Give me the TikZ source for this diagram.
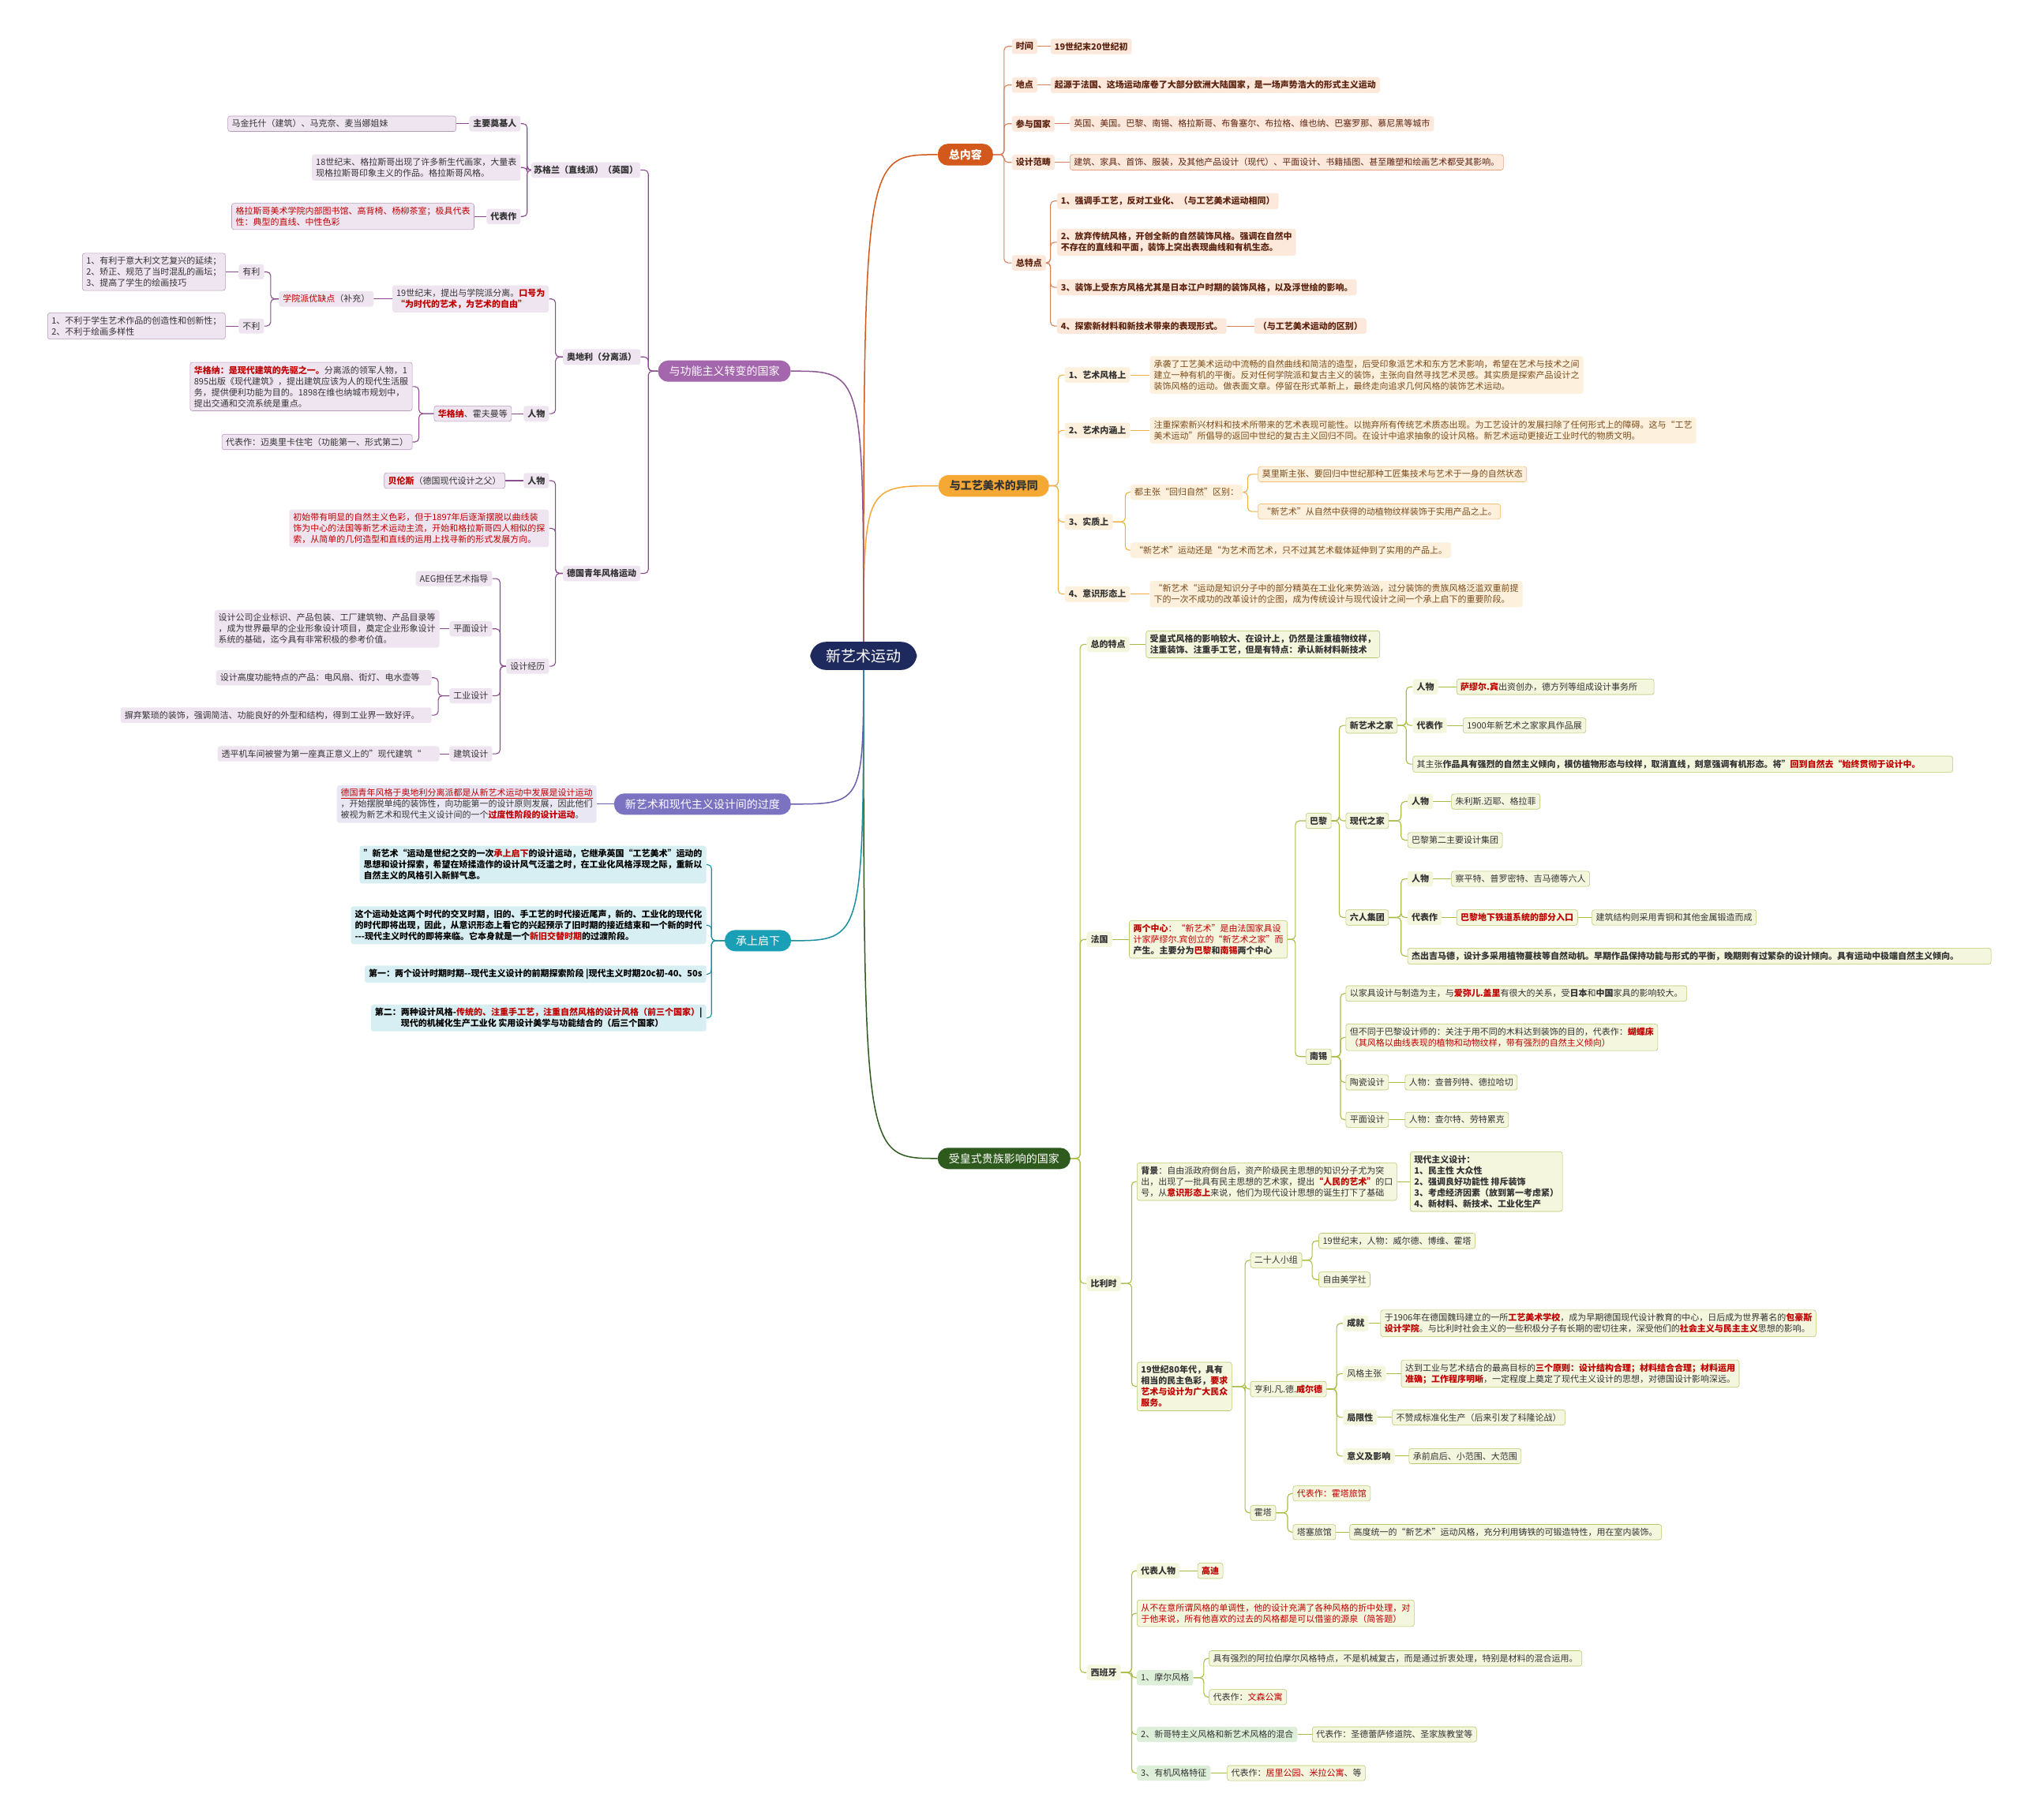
\documentclass[tikz,border=0pt]{standalone}
\usepackage{fontspec}
\setmainfont{Noto Sans CJK SC}
\usetikzlibrary{backgrounds}
\definecolor{navy}{HTML}{1E2A5E}
\definecolor{oMain}{HTML}{D2581C}\definecolor{oLine}{HTML}{D9805A}\definecolor{oFill}{HTML}{FDE8DC}\definecolor{oText}{HTML}{5C2410}\definecolor{oBorder}{HTML}{E8A080}
\definecolor{yMain}{HTML}{F5A833}\definecolor{yLine}{HTML}{F0B045}\definecolor{yFill}{HTML}{FDF0DC}\definecolor{yText}{HTML}{7A4B1C}\definecolor{yBorder}{HTML}{F0C070}
\definecolor{gMain}{HTML}{2E5A1E}\definecolor{gLine}{HTML}{A8BE45}\definecolor{gFill}{HTML}{F4F6DE}\definecolor{gBorder}{HTML}{B9CB6E}\definecolor{gFillB}{HTML}{DDEFD9}
\definecolor{pMain}{HTML}{A466AC}\definecolor{pLine}{HTML}{8A4C8F}\definecolor{pFill}{HTML}{EFE5F1}\definecolor{pBorder}{HTML}{B89BBB}
\definecolor{vMain}{HTML}{7B72C2}\definecolor{vLine}{HTML}{6A60B0}\definecolor{vFill}{HTML}{EAE7F5}
\definecolor{cMain}{HTML}{1AA0B6}\definecolor{cLine}{HTML}{1B8EA0}\definecolor{cFill}{HTML}{D7EEF2}
\definecolor{dText}{HTML}{333333}\definecolor{hl}{HTML}{C00000}
\newcommand\fs{\fontsize{11}{14}\selectfont}
\newcommand\hr[1]{\textcolor{hl}{#1}}
\newcommand\hb[1]{\textcolor{hl}{\bfseries #1}}
\newcommand\cR[3][5]{\draw (#2.west) -- ++(-#1,0) |- (#3.east);}
\newcommand\cL[3][5]{\draw (#2.east) -- ++(#1,0) |- (#3.west);}
\newcommand\cS[2]{\draw (#1) -- (#2);}
\begin{document}
\begin{tikzpicture}[x=1.6327pt,y=-1.6327pt,
  bx/.style={font=\fs, inner xsep=5pt, inner ysep=4.5pt, rounded corners=3pt, align=left},
  bld/.style={font=\fs\bfseries},
  mn/.style={inner xsep=14pt, inner ysep=7pt, rounded corners=13pt, font=\fontsize{14}{17}\selectfont, text=white},
  mnb/.style={mn, font=\fontsize{14}{17}\selectfont\bfseries},
  oo/.style={bx, fill=oFill, text=oText},
  ood/.style={oo, draw=oBorder, line width=0.6pt},
  yy/.style={bx, fill=yFill, text=yText},
  yyd/.style={yy, draw=yBorder, line width=0.6pt},
  gg/.style={bx, fill=gFill, text=dText},
  ggd/.style={gg, draw=gBorder, line width=0.6pt},
  gm/.style={bx, fill=gFillB, text=dText},
  pp/.style={bx, fill=pFill, text=dText},
  ppd/.style={pp, draw=pBorder, line width=0.6pt},
  vv/.style={bx, fill=vFill, text=dText},
  cc/.style={bx, fill=cFill, text=black, font=\fs\bfseries},
  ra/.style={anchor=west}, la/.style={anchor=east}]
\useasboundingbox (0,0) rectangle (1568,1412);
% ---------- center ----------
\node[fill=navy, text=white, rounded corners=20pt, inner xsep=20pt, inner ysep=9pt, font=\fontsize{19}{22}\selectfont] (C) at (670,509) {新艺术运动};
% ---------- 总内容 ----------
\node[mnb, fill=oMain] (O) at (749,120) {总内容};
\node[oo,bld,ra] (o1) at (785,36) {时间};
\node[oo,bld,ra] (o1a) at (815,36) {19世纪末20世纪初};
\node[oo,bld,ra] (o2) at (785,66) {地点};
\node[oo,bld,ra] (o2a) at (815,66) {起源于法国、这场运动席卷了大部分欧洲大陆国家，是一场声势浩大的形式主义运动};
\node[oo,bld,ra] (o3) at (785,96) {参与国家};
\node[oo,ra] (o3a) at (830,96) {英国、美国。巴黎、南锡、格拉斯哥、布鲁塞尔、布拉格、维也纳、巴塞罗那、慕尼黑等城市};
\node[oo,bld,ra] (o4) at (785,126) {设计范畴};
\node[ood,ra] (o4a) at (830,126) {建筑、家具、首饰、服装，及其他产品设计（现代）、平面设计、书籍插图、甚至雕塑和绘画艺术都受其影响。};
\node[oo,bld,ra] (o5) at (785,204) {总特点};
\node[oo,bld,ra] (o5a) at (820,156) {1、强调手工艺，反对工业化、（与工艺美术运动相同）};
\node[oo,bld,ra] (o5b) at (820,188) {2、放弃传统风格，开创全新的自然装饰风格。强调在自然中\\不存在的直线和平面，装饰上突出表现曲线和有机生态。};
\node[oo,bld,ra] (o5c) at (820,223) {3、装饰上受东方风格尤其是日本江户时期的装饰风格，以及浮世绘的影响。};
\node[oo,bld,ra] (o5d) at (820,253) {4、探索新材料和新技术带来的表现形式。};
\node[oo,bld,ra] (o5e) at (973,253) {（与工艺美术运动的区别）};
% ---------- 与工艺美术的异同 ----------
\node[mnb, fill=yMain, text=dText] (Y) at (771,377) {与工艺美术的异同};
\node[yy,bld,text=dText,ra] (y1) at (826,291) {1、艺术风格上};
\node[yy,ra] (y1a) at (892,291) {承袭了工艺美术运动中流畅的自然曲线和简洁的造型，后受印象派艺术和东方艺术影响，希望在艺术与技术之间\\建立一种有机的平衡。反对任何学院派和复古主义的装饰，主张向自然寻找艺术灵感。其实质是探索产品设计之\\装饰风格的运动。做表面文章。停留在形式革新上，最终走向追求几何风格的装饰艺术运动。};
\node[yy,bld,text=dText,ra] (y2) at (826,334) {2、艺术内涵上};
\node[yy,ra] (y2a) at (892,334) {注重探索新兴材料和技术所带来的艺术表现可能性。以抛弃所有传统艺术质态出现。为工艺设计的发展扫除了任何形式上的障碍。这与“工艺\\美术运动”所倡导的返回中世纪的复古主义回归不同。在设计中追求抽象的设计风格。新艺术运动更接近工业时代的物质文明。};
\node[yy,bld,text=dText,ra] (y3) at (826,405) {3、实质上};
\node[yy,ra] (y3a) at (877,382) {都主张“回归自然”区别：};
\node[yyd,ra] (y3a1) at (976,368) {莫里斯主张、要回归中世纪那种工匠集技术与艺术于一身的自然状态};
\node[yyd,ra] (y3a2) at (976,397) {“新艺术”从自然中获得的动植物纹样装饰于实用产品之上。};
\node[yy,ra] (y3b) at (877,427) {“新艺术”运动还是“为艺术而艺术，只不过其艺术载体延伸到了实用的产品上。};
\node[yy,bld,text=dText,ra] (y4) at (826,461) {4、意识形态上};
\node[yy,ra] (y4a) at (892,461) {“新艺术“运动是知识分子中的部分精英在工业化来势汹汹，过分装饰的贵族风格泛滥双重前提\\下的一次不成功的改革设计的企图，成为传统设计与现代设计之间一个承上启下的重要阶段。};
% ---------- 受皇式贵族影响的国家 ----------
\node[mn, fill=gMain] (G) at (779,899) {受皇式贵族影响的国家};
\node[gg,bld,ra] (g1) at (843,500) {总的特点};
\node[ggd,bld,ra] (g1a) at (889,500) {受皇式风格的影响较大、在设计上，仍然是注重植物纹样，\\注重装饰、注重手工艺，但是有特点：承认新材料新技术};
\node[gg,bld,ra] (g2) at (843,729) {法国};
\node[ggd,ra] (g2a) at (876,729) {\hb{两个中心}\hr{：“新艺术”是由法国家具设}\\\hr{计家萨缪尔.宾创立的“新艺术之家”而}\\\textbf{产生。主要分为}\hb{巴黎}\textbf{和}\hb{南锡}\textbf{两个中心}};
\node[ggd,bld,ra] (pa) at (1013,637) {巴黎};
\node[ggd,bld,ra] (pa1) at (1044,563) {新艺术之家};
\node[gg,bld,ra] (pa1a) at (1096,533) {人物};
\node[ggd,ra] (pa1a1) at (1130,533) {\hb{萨缪尔.宾}出资创办，德方列等组成设计事务所\hspace*{16pt}};
\node[gg,bld,ra] (pa1b) at (1096,563) {代表作};
\node[ggd,ra] (pa1b1) at (1135,563) {1900年新艺术之家家具作品展};
\node[ggd,bld,ra] (pa1c) at (1096,593) {\mdseries 其主张\bfseries 作品具有强烈的自然主义倾向，模仿植物形态与纹样，取消直线，刻意强调有机形态。将”\hb{回到自然去“始终贯彻于设计中。}\hspace*{36pt}};
\node[ggd,bld,ra] (pa2) at (1044,637) {现代之家};
\node[gg,bld,ra] (pa2a) at (1092,622) {人物};
\node[ggd,ra] (pa2a1) at (1126,622) {朱利斯.迈耶、格拉菲};
\node[ggd,ra] (pa2b) at (1092,652) {巴黎第二主要设计集团};
\node[ggd,bld,ra] (pa3) at (1044,712) {六人集团};
\node[gg,bld,ra] (pa3a) at (1092,682) {人物};
\node[ggd,ra] (pa3a1) at (1126,682) {察平特、普罗密特、吉马德等六人};
\node[gg,bld,ra] (pa3b) at (1092,712) {代表作};
\node[ggd,ra] (pa3b1) at (1130,712) {\hb{巴黎地下铁道系统的部分入口}};
\node[ggd,ra] (pa3b2) at (1235,712) {建筑结构则采用青铜和其他金属锻造而成};
\node[ggd,bld,ra] (pa3c) at (1092,742) {杰出吉马德，设计多采用植物蔓枝等自然动机。早期作品保持功能与形式的平衡，晚期则有过繁杂的设计倾向。具有运动中极端自然主义倾向。\hspace*{36pt}};
\node[ggd,bld,ra] (nx) at (1013,820) {南锡};
\node[ggd,ra] (nx1) at (1044,771) {以家具设计与制造为主，与\hb{爱弥儿.盖里}有很大的关系，受\textbf{日本}和\textbf{中国}家具的影响较大。};
\node[ggd,ra] (nx2) at (1044,805) {但不同于巴黎设计师的：关注于用不同的木料达到装饰的目的，代表作：\hb{蝴蝶床}\\\hr{（其风格以曲线表现的植物和动物纹样，带有强烈的自然主义倾向）}};
\node[ggd,ra] (nx3) at (1044,840) {陶瓷设计};
\node[ggd,ra] (nx3a) at (1090,840) {人物：查普列特、德拉哈切};
\node[ggd,ra] (nx4) at (1044,869) {平面设计};
\node[ggd,ra] (nx4a) at (1090,869) {人物：查尔特、劳特累克};
\node[gg,bld,ra] (g3) at (843,996) {比利时};
\node[ggd,ra] (b1) at (882,917) {\textbf{背景}：自由派政府倒台后，资产阶级民主思想的知识分子尤为突\\出，出现了一批具有民主思想的艺术家，提出\hb{“人民的艺术”}的口\\号，从\hb{意识形态上}来说，他们为现代设计思想的诞生打下了基础};
\node[ggd,bld,ra] (b1a) at (1094,917) {现代主义设计：\\1、民主性 大众性\\2、强调良好功能性 排斥装饰\\3、考虑经济因素（放到第一考虑紧）\\4、新材料、新技术、工业化生产};
\node[ggd,bld,ra] (b2) at (882,1076) {19世纪80年代，具有\\相当的民主色彩，\hr{要求}\\\hr{艺术与设计为广大民众}\\\hr{服务。}};
\node[ggd,ra] (b21) at (970,978) {二十人小组};
\node[ggd,ra] (b21a) at (1023,963) {19世纪末，人物：威尔德、博维、霍塔};
\node[ggd,ra] (b21b) at (1023,993) {自由美学社};
\node[ggd,ra] (b22) at (970,1078) {亨利.凡.德.\hb{威尔德}};
\node[gg,bld,ra] (b22a) at (1042,1027) {成就};
\node[ggd,ra] (b22a1) at (1071,1027) {于1906年在德国魏玛建立的一所\hb{工艺美术学校}，成为早期德国现代设计教育的中心，日后成为世界著名的\hb{包豪斯}\\\hb{设计学院}。与比利时社会主义的一些积极分子有长期的密切往来，深受他们的\hb{社会主义与民主主义}思想的影响。};
\node[gg,ra] (b22b) at (1042,1066) {风格主张};
\node[ggd,ra] (b22b1) at (1087,1066) {达到工业与艺术结合的最高目标的\hb{三个原则：设计结构合理；材料结合合理；材料运用}\\\hb{准确；工作程序明晰}，一定程度上奠定了现代主义设计的思想，对德国设计影响深远。};
\node[gg,bld,ra] (b22c) at (1042,1100) {局限性};
\node[ggd,ra] (b22c1) at (1080,1100) {不赞成标准化生产（后来引发了科隆论战）};
\node[gg,bld,ra] (b22d) at (1042,1130) {意义及影响};
\node[ggd,ra] (b22d1) at (1093,1130) {承前启后、小范围、大范围};
\node[ggd,ra] (b23) at (970,1174) {霍塔};
\node[ggd,ra] (b23a) at (1003,1159) {\hr{代表作：霍塔旅馆}};
\node[ggd,ra] (b23b) at (1003,1189) {塔塞旅馆};
\node[ggd,ra] (b23b1) at (1047,1189) {高度统一的“新艺术”运动风格，充分利用铸铁的可锻造特性，用在室内装饰。};
\node[gg,bld,ra] (g4) at (843,1298) {西班牙};
\node[gg,bld,ra] (s1) at (882,1219) {代表人物};
\node[ggd,ra] (s1a) at (929,1219) {\hb{高迪}};
\node[ggd,ra] (s2) at (882,1252) {\hr{从不在意所谓风格的单调性，他的设计充满了各种风格的折中处理，对}\\\hr{于他来说，所有他喜欢的过去的风格都是可以借鉴的源泉（简答题）}};
\node[gm,ra] (s3) at (882,1302) {1、摩尔风格};
\node[ggd,ra] (s3a) at (938,1287) {具有强烈的阿拉伯摩尔风格特点，不是机械复古，而是通过折衷处理，特别是材料的混合运用。};
\node[ggd,ra] (s3b) at (938,1317) {代表作：\hr{文森公寓}};
\node[gm,ra] (s4) at (882,1346) {2、新哥特主义风格和新艺术风格的混合};
\node[ggd,ra] (s4a) at (1018,1346) {代表作：圣德蕾萨修道院、圣家族教堂等};
\node[gm,ra] (s5) at (882,1376) {3、有机风格特征};
\node[ggd,ra] (s5a) at (952,1376) {代表作：\hr{居里公园、米拉公寓}、等};
% ---------- 与功能主义转变的国家 ----------
\node[mn, fill=pMain] (P) at (562,288) {与功能主义转变的国家};
\node[pp,bld,la,inner xsep=3pt] (pS) at (497,132) {苏格兰（直线派）（英国）};
\node[pp,bld,la] (pS1) at (404,96) {主要奠基人};
\node[ppd,la,text width=279pt] (pS1a) at (354,96) {马金托什（建筑）、马克奈、麦当娜姐妹};
\node[pp,la] (pS2) at (404,130) {18世纪末、格拉斯哥出现了许多新生代画家，大量表\\现格拉斯哥印象主义的作品。格拉斯哥风格。};
\node[pp,bld,la] (pS3) at (404,168) {代表作};
\node[ppd,la,text=hl] (pS3a) at (368,168) {格拉斯哥美术学院内部图书馆、高背椅、杨柳茶室；极具代表\\性：典型的直线、中性色彩};
\node[pp,bld,la] (pA) at (497,277) {奥地利（分离派）};
\node[pp,la] (pA1) at (426,232) {19世纪末，提出与学院派分离。\hb{口号为}\\\hb{“为时代的艺术，为艺术的自由”}};
\node[pp,la] (pA1a) at (290,232) {\hr{学院派优缺点}（补充）};
\node[pp,la] (pA1a1) at (205,211) {有利};
\node[ppd,la] (pA1a1x) at (175,211) {1、有利于意大利文艺复兴的延续；\\2、矫正、规范了当时混乱的画坛；\\3、提高了学生的绘画技巧};
\node[pp,la] (pA1a2) at (205,253) {不利};
\node[ppd,la] (pA1a2x) at (175,253) {1、不利于学生艺术作品的创造性和创新性；\\2、不利于绘画多样性};
\node[pp,bld,la] (pA2) at (426,321) {人物};
\node[ppd,la] (pA2a) at (397,321) {\hb{华格纳}、霍夫曼等};
\node[ppd,la] (pA2a1) at (320,300) {\hb{华格纳：是现代建筑的先驱之一。}分离派的领军人物，1\\895出版《现代建筑》，提出建筑应该为人的现代生活服\\务，提供便利功能为目的。1898在维也纳城市规划中，\\提出交通和交流系统是重点。};
\node[ppd,la] (pA2a2) at (320,343) {代表作：迈奥里卡住宅（功能第一、形式第二）};
\node[pp,bld,la] (pD) at (497,445) {德国青年风格运动};
\node[pp,bld,la] (pD1) at (426,373) {人物};
\node[ppd,la] (pD1a) at (392,373) {\hb{贝伦斯}（德国现代设计之父）};
\node[pp,la,text=hl] (pD2) at (426,410) {初始带有明显的自然主义色彩，但于1897年后逐渐摆脱以曲线装\\饰为中心的法国等新艺术运动主流，开始和格拉斯哥四人相似的探\\索，从简单的几何造型和直线的运用上找寻新的形式发展方向。};
\node[pp,la] (pD3) at (426,517) {设计经历};
\node[pp,la] (pD3a) at (382,449) {AEG担任艺术指导};
\node[pp,la] (pD3b) at (382,488) {平面设计};
\node[pp,la] (pD3b1) at (341,488) {设计公司企业标识、产品包装、工厂建筑物、产品目录等\\，成为世界最早的企业形象设计项目，奠定企业形象设计\\系统的基础，迄今具有非常积极的参考价值。};
\node[pp,la] (pD3c) at (382,540) {工业设计};
\node[pp,la] (pD3c1) at (335,526) {设计高度功能特点的产品：电风扇、街灯、电水壶等\hspace*{10pt}};
\node[pp,la] (pD3c2) at (335,555) {摒弃繁琐的装饰，强调简洁、功能良好的外型和结构，得到工业界一致好评。\hspace*{10pt}};
\node[pp,la] (pD3d) at (382,585) {建筑设计};
\node[pp,la] (pD3d1) at (341,585) {透平机车间被誉为第一座真正意义上的”现代建筑“\hspace*{18pt}};
% ---------- 过度 ----------
\node[mn, fill=vMain] (V) at (545,624) {新艺术和现代主义设计间的过度};
\node[vv,la] (V1) at (463,624) {\hr{\underline{德国青年风格于奥地利分离派都是从新艺术运动中发展是设计运动}}\\，开始摆脱单纯的装饰性，向功能第一的设计原则发展，因此他们\\被视为新艺术和现代主义设计间的一个\hb{过度性阶段的设计运动}。};
% ---------- 承上启下 ----------
\node[mn, fill=cMain] (T) at (588,730) {承上启下};
\node[cc,la] (T1) at (548,671) {”新艺术“运动是世纪之交的一次\hr{承上启下}的设计运动，它继承英国“工艺美术”运动的\\思想和设计探索，希望在矫揉造作的设计风气泛滥之时，在工业化风格浮现之际，重新以\\自然主义的风格引入新鲜气息。};
\node[cc,la] (T2) at (548,718) {这个运动处这两个时代的交叉时期，旧的、手工艺的时代接近尾声，新的、工业化的现代化\\的时代即将出现，因此，从意识形态上看它的兴起预示了旧时期的接近结束和一个新的时代\\-{}-{}-现代主义时代的即将来临。它本身就是一个\hr{新旧交替时期}的过渡阶段。};
\node[cc,la] (T3) at (548,756) {第一：两个设计时期时期-{}-现代主义设计的前期探索阶段 |现代主义时期20c初-40、50s};
\node[cc,la] (T4) at (548,790) {第二：两种设计风格-\hr{传统的、注重手工艺，注重自然风格的设计风格（前三个国家）}|\\\hspace*{3em}现代的机械化生产工业化 实用设计美学与功能结合的（后三个国家）};
% ---------- connectors ----------
\begin{scope}[on background layer]
\fill[white] (0,0) rectangle (1568,1412);
\begin{scope}[line width=1.5pt]
\draw[oMain] (C.center) .. controls (C.center |- O.west) .. (O.west);
\draw[yMain] (C.center) .. controls (C.center |- Y.west) .. (Y.west);
\draw[gMain] (C.center) .. controls (C.center |- G.west) .. (G.west);
\draw[pMain!85!black] (C.center) .. controls (C.center |- P.east) .. (P.east);
\draw[vLine] (C.center) .. controls (C.center |- V.east) .. (V.east);
\draw[cLine] (C.center) .. controls (C.center |- T.east) .. (T.east);
\end{scope}
\begin{scope}[draw=oLine, line width=1.1pt, rounded corners=5pt]
\cR[6]{o1}{O}\cR[6]{o2}{O}\cR[6]{o3}{O}\cR[6]{o4}{O}\cR[6]{o5}{O}
\cS{o1.east}{o1a.west}\cS{o2.east}{o2a.west}\cS{o3.east}{o3a.west}\cS{o4.east}{o4a.west}
\cR{o5a}{o5}\cR{o5b}{o5}\cR{o5c}{o5}\cR{o5d}{o5}\cS{o5d.east}{o5e.west}
\end{scope}
\begin{scope}[draw=yLine, line width=1.1pt, rounded corners=5pt]
\cR{y1}{Y}\cR{y2}{Y}\cR{y3}{Y}\cR{y4}{Y}
\cS{y1.east}{y1a.west}\cS{y2.east}{y2a.west}\cS{y4.east}{y4a.west}
\cR[4]{y3a}{y3}\cR[4]{y3b}{y3}\cR[8]{y3a1}{y3a}\cR[8]{y3a2}{y3a}
\end{scope}
\begin{scope}[draw=gLine, line width=1.1pt, rounded corners=5pt]
\cR{g1}{G}\cR{g2}{G}\cR{g3}{G}\cR{g4}{G}
\cS{g1.east}{g1a.west}\cS{g2.east}{g2a.west}
\cR[8]{pa}{g2a}\cR[8]{nx}{g2a}
\cR{pa1}{pa}\cR{pa2}{pa}\cR{pa3}{pa}
\cR{pa1a}{pa1}\cR{pa1b}{pa1}\cR{pa1c}{pa1}\cS{pa1a.east}{pa1a1.west}\cS{pa1b.east}{pa1b1.west}
\cR{pa2a}{pa2}\cR{pa2b}{pa2}\cS{pa2a.east}{pa2a1.west}
\cR{pa3a}{pa3}\cR{pa3b}{pa3}\cR{pa3c}{pa3}\cS{pa3a.east}{pa3a1.west}\cS{pa3b.east}{pa3b1.west}\cS{pa3b1.east}{pa3b2.west}
\cR[4]{nx1}{nx}\cR[4]{nx2}{nx}\cR[4]{nx3}{nx}\cR[4]{nx4}{nx}\cS{nx3.east}{nx3a.west}\cS{nx4.east}{nx4a.west}
\cR[4]{b1}{g3}\cR[4]{b2}{g3}\cS{b1.east}{b1a.west}
\cR[4]{b21}{b2}\cR[4]{b22}{b2}\cR[4]{b23}{b2}
\cR{b21a}{b21}\cR{b21b}{b21}
\cR{b22a}{b22}\cR{b22b}{b22}\cR{b22c}{b22}\cR{b22d}{b22}
\cS{b22a.east}{b22a1.west}\cS{b22b.east}{b22b1.west}\cS{b22c.east}{b22c1.west}\cS{b22d.east}{b22d1.west}
\cR[4]{b23a}{b23}\cR[4]{b23b}{b23}\cS{b23b.east}{b23b1.west}
\cR[4]{s1}{g4}\cR[4]{s2}{g4}\cR[4]{s3}{g4}\cR[4]{s4}{g4}\cR[4]{s5}{g4}
\cS{s1.east}{s1a.west}\cR[4]{s3a}{s3}\cR[4]{s3b}{s3}\cS{s4.east}{s4a.west}\cS{s5.east}{s5a.west}
\end{scope}
\begin{scope}[draw=pLine, line width=1.1pt, rounded corners=5pt]
\cL[6]{pS}{P}\cL[6]{pA}{P}\cL[6]{pD}{P}
\cL{pS1}{pS}\cL{pS2}{pS}\cL{pS3}{pS}\cS{pS1.west}{pS1a.east}\cS{pS3.west}{pS3a.east}
\cL{pA1}{pA}\cL{pA2}{pA}\cS{pA1.west}{pA1a.east}
\cL{pA1a1}{pA1a}\cL{pA1a2}{pA1a}\cS{pA1a1.west}{pA1a1x.east}\cS{pA1a2.west}{pA1a2x.east}
\cS{pA2.west}{pA2a.east}\cL{pA2a1}{pA2a}\cL{pA2a2}{pA2a}
\cL{pD1}{pD}\cL{pD2}{pD}\cL{pD3}{pD}\cS{pD1.west}{pD1a.east}
\cL[6]{pD3a}{pD3}\cL[6]{pD3b}{pD3}\cL[6]{pD3c}{pD3}\cL[6]{pD3d}{pD3}
\cS{pD3b.west}{pD3b1.east}\cL{pD3c1}{pD3c}\cL{pD3c2}{pD3c}\cS{pD3d.west}{pD3d1.east}
\end{scope}
\begin{scope}[draw=vLine, line width=1.1pt]
\cS{V.west}{V1.east}
\end{scope}
\begin{scope}[draw=cLine, line width=1.1pt, rounded corners=5pt]
\cL[4]{T1}{T}\cL[4]{T2}{T}\cL[4]{T3}{T}\cL[4]{T4}{T}
\end{scope}
\end{scope}
\end{tikzpicture}
\end{document}
